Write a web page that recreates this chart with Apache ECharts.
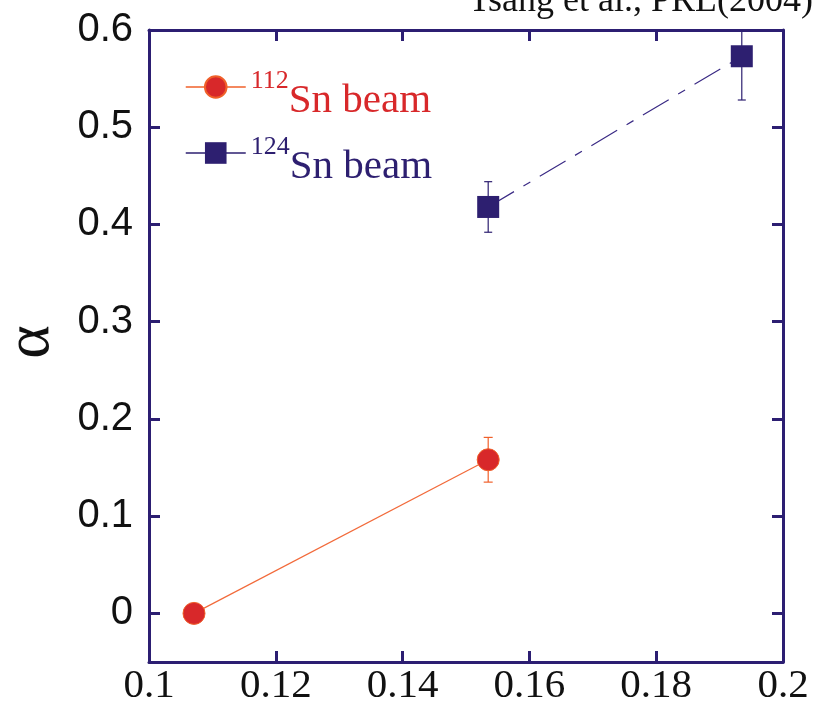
<!DOCTYPE html>
<html>
<head>
<meta charset="utf-8">
<script src="https://cdn.jsdelivr.net/npm/echarts@6/dist/echarts.min.js"></script>
<style>
  html, body { margin: 0; padding: 0; background: #ffffff; }
  #chart { width: 825px; height: 705px; }
</style>
</head>
<body>
<div id="chart"></div>
<script>
// Isospin asymmetry delta of the emitting source vs. isoscaling parameter alpha
const seriesNames = ['112Sn beam', '124Sn beam'];

const xSn112 = [0.1071, 0.1535];
const ySn112 = [0.0, 0.158];
const errSn112 = [0.0, 0.023];

const xSn124 = [0.1535, 0.1935];
const ySn124 = [0.418, 0.573];
const errSn124 = [0.026, 0.045];

const xTicks = [0.1, 0.12, 0.14, 0.16, 0.18, 0.2];
const yTicks = [0, 0.1, 0.2, 0.3, 0.4, 0.5, 0.6];

const citation = 'Tsang et al., PRL(2004)';

const NAVY = '#2c1e72';
const RED = '#d8282a';
const ORANGE = '#f0602a';
const BLUE = '#2d1f70';

function points(xs, ys) {
  return xs.map((x, i) => [x, ys[i]]);
}
function errorData(xs, ys, es) {
  return xs.map((x, i) => [x, ys[i] - es[i], ys[i] + es[i], es[i]]);
}

function errorBarRenderer(color, capHalf) {
  return function (params, api) {
    if (api.value(3) <= 0) return null;
    const x = api.value(0);
    const lo = api.coord([x, api.value(1)]);
    const hi = api.coord([x, api.value(2)]);
    const style = { stroke: color, lineWidth: 1.2 };
    return {
      type: 'group',
      children: [
        { type: 'line', shape: { x1: lo[0], y1: lo[1], x2: hi[0], y2: hi[1] }, style: style },
        { type: 'line', shape: { x1: lo[0] - capHalf, y1: lo[1], x2: lo[0] + capHalf, y2: lo[1] }, style: style },
        { type: 'line', shape: { x1: hi[0] - capHalf, y1: hi[1], x2: hi[0] + capHalf, y2: hi[1] }, style: style }
      ]
    };
  };
}

const axisLine = { show: true, onZero: false, lineStyle: { color: NAVY, width: 3 } };
const axisTick = { show: true, inside: true, length: 11, lineStyle: { color: NAVY, width: 3 } };

const chart = echarts.init(document.getElementById('chart'), null, { renderer: 'canvas' });

chart.setOption({
  backgroundColor: '#ffffff',
  animation: false,
  grid: { left: 149, right: 42, top: 30, bottom: 43, containLabel: false, outerBoundsMode: 'none' },
  xAxis: [
    {
      type: 'value', position: 'bottom',
      min: xTicks[0], max: xTicks[xTicks.length - 1], interval: 0.02,
      axisLine: axisLine, axisTick: axisTick, splitLine: { show: false },
      axisLabel: {
        show: true, margin: 4, color: '#111111',
        fontFamily: 'Liberation Serif', fontSize: 41,
        showMinLabel: true, showMaxLabel: true, hideOverlap: false
      }
    },
    {
      type: 'value', position: 'top',
      min: xTicks[0], max: xTicks[xTicks.length - 1], interval: 0.02,
      axisLine: axisLine, axisTick: axisTick, splitLine: { show: false },
      axisLabel: { show: false }
    }
  ],
  yAxis: [
    {
      type: 'value', position: 'left', min: -0.05, max: 0.6,
      axisLine: axisLine,
      axisTick: Object.assign({}, axisTick, { customValues: yTicks }),
      splitLine: { show: false },
      axisLabel: {
        show: true, margin: 16, color: '#111111',
        fontFamily: 'Liberation Sans', fontSize: 40,
        padding: [0, 0, 6, 0],
        customValues: yTicks
      },
      name: 'α', nameLocation: 'middle', nameGap: 86, nameMoveOverlap: false,
      nameTextStyle: { fontFamily: 'Liberation Serif', fontSize: 64, color: '#111111', padding: [0, 0, 0, 8] }
    },
    {
      type: 'value', position: 'right', min: -0.05, max: 0.6,
      axisLine: axisLine,
      axisTick: Object.assign({}, axisTick, { customValues: yTicks }),
      splitLine: { show: false },
      axisLabel: { show: false }
    }
  ],
  legend: {
    show: true, orient: 'vertical', left: 185, top: 68, padding: 0,
    itemWidth: 60, itemHeight: 27, itemGap: 12,
    selectedMode: false,
    data: [
      { name: seriesNames[0], lineStyle: { color: ORANGE, width: 1.5, type: 'solid' } },
      { name: seriesNames[1], lineStyle: { color: BLUE, width: 1.5, type: 'solid' } }
    ],
    formatter: function (name) {
      return name === seriesNames[0]
        ? '{supR|112}{mainR|Sn beam}'
        : '{supB|124}{mainB|Sn beam}';
    },
    textStyle: {
      fontFamily: 'Liberation Serif',
      rich: {
        supR: { fontFamily: 'Liberation Serif', fontSize: 26, color: RED, verticalAlign: 'top', padding: [16, 0, 0, 0] },
        mainR: { fontFamily: 'Liberation Serif', fontSize: 41, color: RED, verticalAlign: 'top', padding: [29, 0, 0, 0] },
        supB: { fontFamily: 'Liberation Serif', fontSize: 26, color: BLUE, verticalAlign: 'top', padding: [16, 0, 0, 0] },
        mainB: { fontFamily: 'Liberation Serif', fontSize: 41, color: BLUE, verticalAlign: 'top', padding: [29, 0, 0, 0] }
      }
    }
  },
  graphic: [
    {
      type: 'text', right: 12, top: -16,
      style: { text: citation, fontFamily: 'Liberation Serif', fontSize: 36, fill: '#111111' }
    }
  ],
  series: [
    {
      name: 'err112', type: 'custom', xAxisIndex: 0, yAxisIndex: 0, clip: true, z: 1,
      renderItem: errorBarRenderer(ORANGE, 4.5),
      encode: { x: 0, y: [1, 2] },
      data: errorData(xSn112, ySn112, errSn112)
    },
    {
      name: 'err124', type: 'custom', xAxisIndex: 0, yAxisIndex: 0, clip: true, z: 1,
      renderItem: errorBarRenderer(BLUE, 4),
      encode: { x: 0, y: [1, 2] },
      data: errorData(xSn124, ySn124, errSn124)
    },
    {
      name: seriesNames[0], type: 'line', xAxisIndex: 0, yAxisIndex: 0, z: 3,
      symbol: 'circle', symbolSize: 22, clip: true,
      itemStyle: { color: RED, borderColor: ORANGE, borderWidth: 1 },
      lineStyle: { color: '#f26a3a', width: 1.2 },
      data: points(xSn112, ySn112)
    },
    {
      name: seriesNames[1], type: 'line', xAxisIndex: 0, yAxisIndex: 0, z: 3,
      symbol: 'rect', symbolSize: 22, clip: true,
      itemStyle: { color: BLUE },
      lineStyle: { color: '#3b2b85', width: 1.2, type: [30, 11, 8, 11] },
      data: points(xSn124, ySn124)
    }
  ]
});
</script>
</body>
</html>
